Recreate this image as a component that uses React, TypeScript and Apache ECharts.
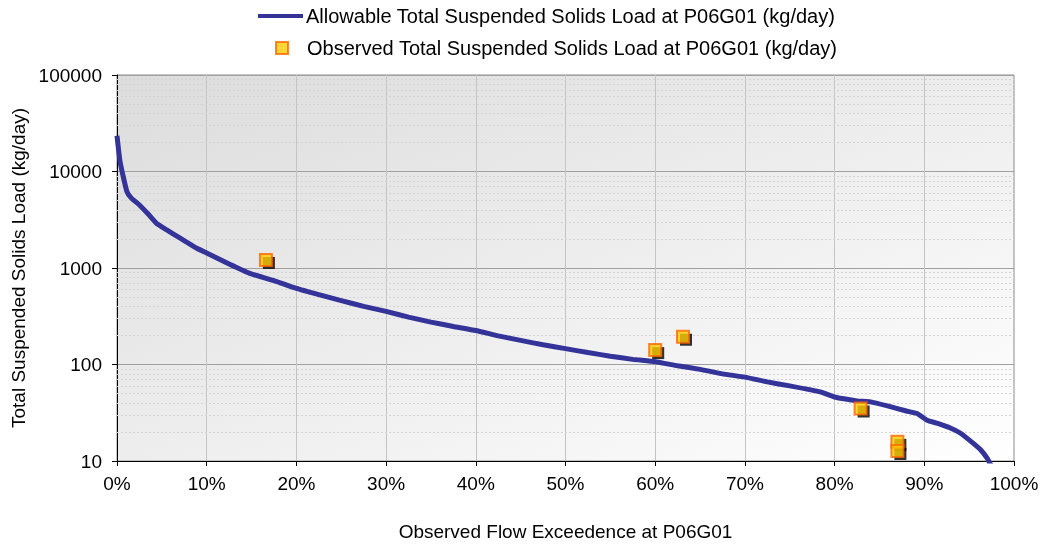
import React, { useEffect, useRef } from "react";
import * as echarts from "echarts";

const lineName = "Allowable Total Suspended Solids Load at P06G01 (kg/day)";
const obsName = "Observed Total Suspended Solids Load at P06G01 (kg/day)";

// Allowable load curve: [flow exceedence %, kg/day]
const allowablePct = [0, 0.35, 1.1, 1.6, 2.5, 3.5, 4.4, 5.5, 7, 8.9, 10, 12.5, 14.8, 17.5, 20, 22.5, 25, 27.5, 30, 32.5, 35, 37.5, 40, 42.5, 45, 47.5, 50, 52.5, 55, 57.5, 60, 62.5, 65, 67.5, 70, 72.5, 75, 78.4, 80, 82.5, 84, 86, 88, 89.2, 90.3, 91.5, 92.9, 94, 95.4, 96.3, 97, 97.6];
const allowableLoad = [23500, 12500, 6200, 5300, 4500, 3600, 2900, 2500, 2050, 1600, 1430, 1100, 880, 740, 615, 530, 460, 400, 355, 310, 275, 248, 225, 198, 178, 160, 146, 133, 122, 113, 107, 97, 89, 80, 74, 66, 60, 52, 46, 42, 41, 37, 33, 31, 26.5, 24.5, 22, 19.5, 15.4, 13, 10.7, 8.5];

// Observed points
const observedPct = [16.6, 60.0, 63.1, 82.9, 87.0, 87.0];
const observedLoad = [1210, 141, 194, 35, 15.8, 12.7];

// Axis ticks
const xTicks = [0, 10, 20, 30, 40, 50, 60, 70, 80, 90, 100];
const yDecades = [10, 100, 1000, 10000, 100000];
const minorMultipliers = [2, 3, 4, 5, 6, 7, 8, 9];

const FONT = "'Liberation Sans', Arial, sans-serif";

export default function App() {
  const ref = useRef<HTMLDivElement>(null);
  useEffect(() => {
    if (!ref.current) return;
    const chart = echarts.init(ref.current, null, { renderer: "svg" });
    const lineData = allowablePct.map((p, i) => [p, allowableLoad[i]]);
    const obsData = observedPct.map((p, i) => [p, observedLoad[i]]);
    const minorLines: any[] = [];
    yDecades.slice(0, -1).forEach((d) => {
      minorMultipliers.forEach((m) => minorLines.push({ yAxis: d * m }));
    });
    chart.setOption({
      animation: false,
      textStyle: { fontFamily: FONT },
      legend: [
        {
          orient: "vertical",
          left: 258,
          top: 6,
          padding: 0,
          itemWidth: 45,
          itemHeight: 4,
          data: [{ name: lineName, icon: "rect" }],
          textStyle: { fontSize: 20, color: "#000", fontFamily: FONT, padding: [0, 0, 0, -2] },
        },
        {
          orient: "vertical",
          left: 275,
          top: 38,
          padding: 0,
          itemWidth: 12,
          itemHeight: 12,
          data: [{ name: obsName, icon: "rect" }],
          textStyle: { fontSize: 20, color: "#000", fontFamily: FONT, padding: [0, 0, 0, 14] },
        },
      ],
      grid: {
        left: 117,
        right: 28,
        top: 75,
        bottom: 85,
        outerBoundsMode: "none",
        containLabel: false,
        show: true,
        borderColor: "#8c8c8c",
        borderWidth: 1,
        backgroundColor: {
          type: "linear",
          x: 0,
          y: 0,
          x2: 1,
          y2: 1,
          colorStops: [
            { offset: 0, color: "#dcdcdc" },
            { offset: 1, color: "#ffffff" },
          ],
        },
      },
      xAxis: {
        type: "value",
        min: 0,
        max: 100,
        interval: 10,
        name: "Observed Flow Exceedence at P06G01",
        nameLocation: "middle",
        nameGap: 61,
        nameTextStyle: { fontSize: 19, color: "#000", fontFamily: FONT },
        axisLine: { show: true, onZero: false, lineStyle: { color: "#000", width: 1 } },
        axisTick: { show: true, length: 5, lineStyle: { color: "#000" } },
        axisLabel: {
          fontSize: 19,
          color: "#000",
          margin: 13,
          fontFamily: FONT,
          formatter: (v: number) => (xTicks.includes(Math.round(v)) ? Math.round(v) + "%" : ""),
        },
        splitLine: { show: true, lineStyle: { color: "#c4c4c4", width: 1 } },
      },
      yAxis: {
        type: "log",
        logBase: 10,
        min: 10,
        max: 100000,
        name: "Total Suspended Solids Load (kg/day)",
        nameLocation: "middle",
        nameGap: 86,
        nameTextStyle: { fontSize: 19, color: "#000", fontFamily: FONT },
        axisLine: { show: true, lineStyle: { color: "#000", width: 1 } },
        axisTick: { show: true, length: 5, lineStyle: { color: "#000" } },
        axisLabel: {
          fontSize: 19,
          color: "#000",
          margin: 15,
          fontFamily: FONT,
          formatter: (v: number) => String(Math.round(v)),
        },
        splitLine: { show: true, lineStyle: { color: "#a0a0a0", width: 1 } },
      },
      series: [
        {
          name: "minor",
          type: "line",
          data: [],
          silent: true,
          z: 1,
          markLine: {
            silent: true,
            symbol: "none",
            z: 1,
            label: { show: false },
            lineStyle: { color: "#d4d4d4", type: [2, 2], width: 1 },
            data: minorLines,
          },
        },
        {
          name: lineName,
          type: "line",
          data: lineData,
          symbol: "none",
          showSymbol: false,
          clip: true,
          smooth: 0.15,
          z: 3,
          lineStyle: { color: "#333399", width: 5 },
          itemStyle: { color: "#333399" },
        },
        {
          name: "shadow",
          type: "scatter",
          data: obsData,
          symbol: "rect",
          symbolSize: 12,
          symbolOffset: [3, 3],
          z: 4,
          itemStyle: { color: "#000", borderWidth: 0 },
          silent: true,
        },
        {
          name: obsName,
          type: "scatter",
          data: obsData,
          symbol: "rect",
          symbolSize: 12,
          z: 5,
          itemStyle: { color: "#ffcc00", borderColor: "#ff6600", borderWidth: 2 },
        },
      ],
    });
    return () => chart.dispose();
  }, []);
  return (
    <div
      ref={ref}
      style={{ position: "fixed", left: 0, top: 0, width: 1042, height: 546 }}
    />
  );
}
